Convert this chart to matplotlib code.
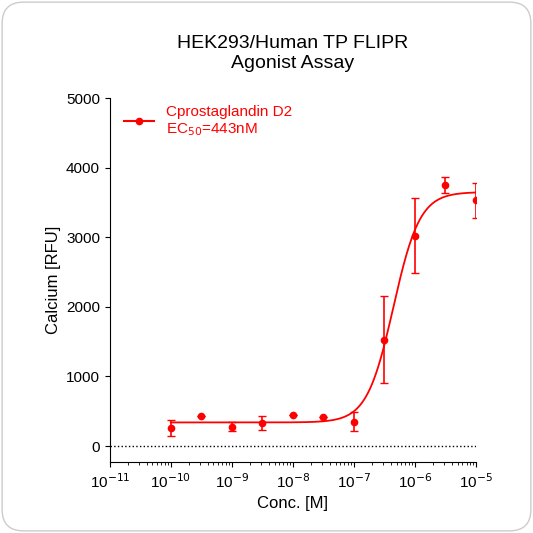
import numpy as np
import matplotlib
matplotlib.use("Agg")
import matplotlib.pyplot as plt
from matplotlib.patches import FancyBboxPatch

conc = [1e-10, 3.16e-10, 1e-9, 3.16e-9, 1e-8, 3.16e-8, 1e-7, 3.16e-7, 1e-6, 3.16e-6, 1e-5]
rfu = [260, 430, 280, 330, 440, 420, 350, 1530, 3020, 3750, 3530]
err = [110, 0, 70, 100, 0, 0, 140, 630, 540, 120, 250]
bottom, top, ec50, hill = 340, 3650, 443e-9, 2.0

plt.rcParams['font.family'] = ['Liberation Sans', 'DejaVu Sans']
fig = plt.figure(figsize=(5.33, 5.33), dpi=100)
fig.patches.append(FancyBboxPatch((0.004, 0.004), 0.992, 0.992, boxstyle="round,pad=0,rounding_size=0.04",
                                  transform=fig.transFigure, fc='none', ec='#cccccc', lw=1, zorder=-10))
ax = fig.add_axes([0.206, 0.133, 0.687, 0.683])
ax.patch.set_alpha(0)
xs = np.logspace(-10, -5, 300)
ys = bottom + (top - bottom) / (1 + (ec50 / xs) ** hill)
ax.plot(xs, ys, color='red', lw=1.3)
ax.errorbar(conc, rfu, yerr=err, fmt='o', color='red', ms=4.5, capsize=3, elinewidth=1.2)
ax.plot([], [], '-o', color='red', ms=4.5, label='Cprostaglandin D2\nEC$_{50}$=443nM')
ax.axhline(0, color='black', ls=':', lw=1)
ax.set_xscale('log')
ax.set_xlim(1e-11, 1e-5)
ax.set_ylim(-230, 5000)
ax.set_yticks(range(0, 5001, 1000))
ax.set_xticks([10.0**k for k in range(-11, -4)])
ax.set_xticklabels([f'10$^{{{k}}}$' for k in range(-11, -4)])
ax.spines['top'].set_visible(False)
ax.spines['right'].set_visible(False)
ax.tick_params(labelsize=11)
ax.set_xlabel('Conc. [M]', fontsize=12)
ax.set_ylabel('Calcium [RFU]', fontsize=12)
ax.set_title('HEK293/Human TP FLIPR\nAgonist Assay', fontsize=14, pad=22)
leg = ax.legend(loc='upper left', frameon=False, fontsize=11, bbox_to_anchor=(0.0, 1.02))
for t in leg.get_texts():
    t.set_color('red')
fig.savefig('out.png', dpi=100)
